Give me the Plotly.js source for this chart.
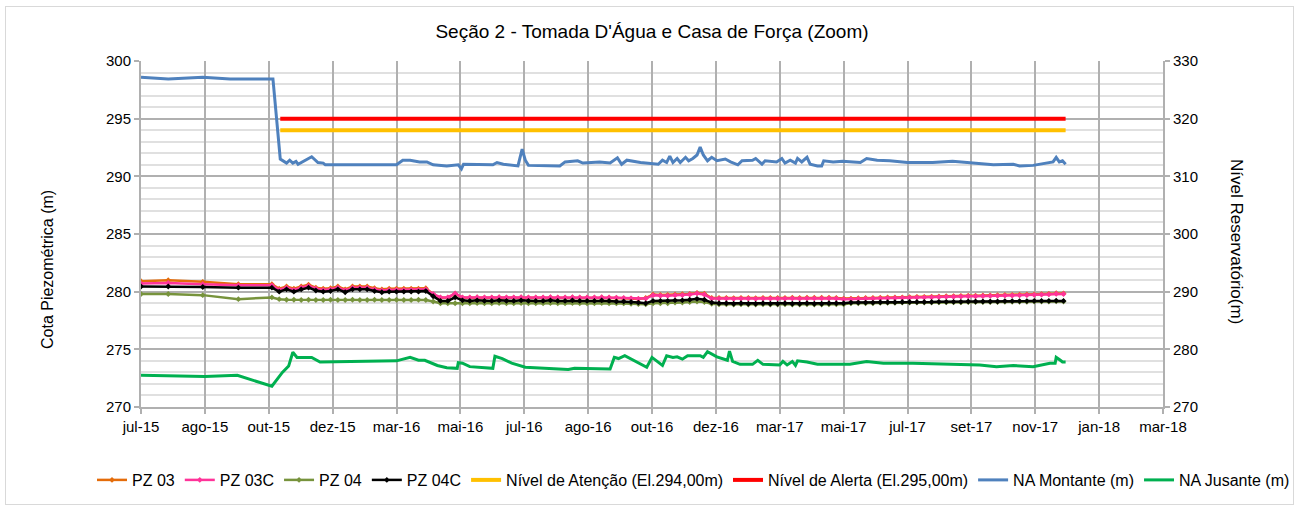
<!DOCTYPE html>
<html>
<head>
<meta charset="utf-8">
<script src="https://cdn.plot.ly/plotly-3.0.1.min.js"></script>
<style>
  html, body { margin: 0; padding: 0; background: #fff; }
  #wrap { position: relative; width: 1299px; height: 510px; }
  #chart { width: 1299px; height: 510px; }
  #frame { position: absolute; left: 5px; top: 6px; width: 1287px; height: 497px; border: 1px solid #d9d9d9; pointer-events: none; }
</style>
</head>
<body>
<div id="wrap"><div id="chart"></div><div id="frame"></div></div>
<script>
// ---- tick labels (x axis) ----
const tickDates = ['2015-07-01','2015-08-31','2015-10-31','2015-12-31','2016-03-01','2016-05-01','2016-07-01','2016-08-31','2016-10-31','2016-12-31','2017-03-02','2017-05-02','2017-07-02','2017-09-01','2017-11-01','2018-01-01','2018-03-03'];
const tickLabels = ['jul-15','ago-15','out-15','dez-15','mar-16','mai-16','jul-16','ago-16','out-16','dez-16','mar-17','mai-17','jul-17','set-17','nov-17','jan-18','mar-18'];

// ---- piezometer readings (left axis, m) ----
const pzDates = ['2015-07-01','2015-07-27','2015-08-29','2015-10-02','2015-11-03',
'2015-11-10','2015-11-17','2015-11-24','2015-12-01','2015-12-08','2015-12-15','2015-12-22','2015-12-29',
'2016-01-05','2016-01-12','2016-01-19','2016-01-26','2016-02-02','2016-02-09','2016-02-16','2016-02-23','2016-03-01','2016-03-08','2016-03-15','2016-03-22','2016-03-29',
'2016-04-05','2016-04-12','2016-04-19','2016-04-26','2016-05-03','2016-05-10','2016-05-17','2016-05-24','2016-05-31','2016-06-07','2016-06-14','2016-06-21','2016-06-28','2016-07-05','2016-07-12','2016-07-19','2016-07-26','2016-08-02','2016-08-09','2016-08-16','2016-08-23','2016-08-30','2016-09-06','2016-09-13','2016-09-20','2016-09-27','2016-10-04','2016-10-11','2016-10-18','2016-10-25',
'2016-11-01','2016-11-08','2016-11-15','2016-11-22','2016-11-29','2016-12-06','2016-12-13','2016-12-20',
'2016-12-27','2017-01-03','2017-01-10','2017-01-17','2017-01-24','2017-01-31','2017-02-07','2017-02-14','2017-02-21','2017-02-28','2017-03-07','2017-03-14','2017-03-21','2017-03-28','2017-04-04','2017-04-11','2017-04-18','2017-04-25','2017-05-02',
'2017-05-09','2017-05-16','2017-05-23','2017-05-30','2017-06-06','2017-06-13','2017-06-20','2017-06-27','2017-07-04','2017-07-11','2017-07-18','2017-07-25','2017-08-01','2017-08-08','2017-08-15','2017-08-22','2017-08-29','2017-09-05','2017-09-12','2017-09-19','2017-09-26','2017-10-03','2017-10-10','2017-10-17','2017-10-24','2017-10-31','2017-11-07','2017-11-14','2017-11-21','2017-11-28'];

const pz03 = [280.9,281.0,280.85,280.65,280.65,
280.25,280.45,280.25,280.45,280.6,280.35,280.25,280.3,280.45,280.2,280.45,280.45,280.45,280.3,280.2,280.25,280.25,280.25,280.25,280.25,280.3,
279.77,279.47,279.47,279.82,279.47,279.47,279.49,279.47,279.47,279.49,279.47,279.47,279.49,279.47,279.47,279.47,279.49,279.47,279.47,279.49,279.47,279.47,279.47,279.49,279.47,279.45,279.42,279.4,279.36,279.45,
279.75,279.72,279.72,279.75,279.78,279.8,279.88,279.82,
279.45,279.45,279.45,279.43,279.45,279.45,279.43,279.45,279.45,279.45,279.45,279.47,279.45,279.47,279.47,279.47,279.47,279.45,279.4,
279.4,279.43,279.45,279.45,279.47,279.49,279.5,279.51,279.53,279.55,279.55,279.57,279.59,279.6,279.61,279.63,279.65,279.65,279.67,279.68,279.69,279.71,279.72,279.73,279.75,279.77,279.79,279.81,279.86,279.85];

const pz03c = [280.7,280.75,280.65,280.55,280.55,
280.15,280.35,280.15,280.35,280.5,280.25,280.15,280.2,280.35,280.1,280.35,280.35,280.35,280.2,280.1,280.15,280.15,280.15,280.15,280.15,280.2,
279.8,279.5,279.5,279.85,279.5,279.5,279.52,279.5,279.5,279.52,279.5,279.5,279.52,279.5,279.5,279.5,279.52,279.5,279.5,279.52,279.5,279.5,279.5,279.52,279.5,279.48,279.45,279.42,279.38,279.4,
279.7,279.65,279.65,279.7,279.7,279.75,279.85,279.75,
279.4,279.4,279.4,279.38,279.4,279.4,279.38,279.4,279.4,279.4,279.4,279.42,279.4,279.42,279.42,279.42,279.42,279.4,279.35,
279.35,279.38,279.4,279.4,279.42,279.44,279.45,279.46,279.48,279.5,279.5,279.52,279.54,279.55,279.56,279.58,279.6,279.6,279.62,279.63,279.64,279.66,279.67,279.68,279.7,279.72,279.74,279.76,279.82,279.8];

const pz04 = [279.8,279.8,279.7,279.35,279.5,
279.35,279.3,279.3,279.28,279.3,279.28,279.28,279.3,279.28,279.28,279.3,279.28,279.28,279.3,279.28,279.28,279.3,279.28,279.28,279.3,279.28,
279.15,279.0,279.0,279.0,279.0,279.0,279.02,279.0,279.0,279.02,279.0,279.0,279.02,279.0,279.0,279.0,279.02,279.0,279.0,279.02,279.0,279.0,279.0,279.02,279.0,278.98,278.98,278.95,278.92,278.9,
279.0,279.0,279.0,279.05,279.05,279.1,279.15,279.1,
278.95,278.9,278.9,278.88,278.9,278.88,278.88,278.9,278.88,278.88,278.9,278.88,278.88,278.9,278.88,278.88,278.9,278.9,278.9,
279.0,279.0,279.0,279.0,279.03,279.03,279.03,279.05,279.05,279.05,279.05,279.05,279.07,279.07,279.07,279.07,279.1,279.1,279.1,279.1,279.1,279.13,279.13,279.13,279.13,279.15,279.15,279.15,279.17,279.15];

const pz04c = [280.45,280.45,280.4,280.35,280.35,
280.0,280.2,280.0,280.2,280.35,280.1,280.0,280.05,280.2,279.95,280.2,280.2,280.2,280.05,279.95,280.0,280.0,280.0,280.0,280.0,280.05,
279.6,279.2,279.2,279.5,279.25,279.2,279.25,279.2,279.2,279.25,279.2,279.2,279.25,279.2,279.2,279.2,279.25,279.2,279.2,279.25,279.2,279.2,279.2,279.25,279.2,279.15,279.15,279.1,279.05,279.0,
279.2,279.2,279.2,279.25,279.25,279.3,279.38,279.3,
279.05,279.0,279.0,278.95,279.0,278.95,278.95,279.0,278.95,278.95,279.0,278.95,278.95,279.0,278.95,278.95,279.0,279.0,279.0,
279.05,279.05,279.05,279.05,279.08,279.08,279.08,279.1,279.1,279.1,279.1,279.1,279.12,279.12,279.12,279.12,279.15,279.15,279.15,279.15,279.15,279.18,279.18,279.18,279.18,279.2,279.2,279.2,279.22,279.2];

// ---- limit levels (left axis, m) ----
const levelDates = ['2015-11-11','2017-11-30'];
const atencao = [294, 294];
const alerta = [295, 295];

// ---- reservoir levels (right axis, m) ----
const montDates = ['2015-07-01','2015-07-27','2015-08-29','2015-09-24','2015-11-04','2015-11-11','2015-11-17','2015-11-20','2015-11-23','2015-11-26','2015-11-28','2015-12-11','2015-12-17','2015-12-22','2015-12-24',
'2016-03-01','2016-03-07','2016-03-14','2016-03-23','2016-03-30','2016-04-05','2016-04-18','2016-04-29','2016-05-02','2016-05-04','2016-06-01','2016-06-05','2016-06-11','2016-06-25','2016-06-29','2016-07-02','2016-07-05',
'2016-08-04','2016-08-09','2016-08-21','2016-08-26','2016-09-11','2016-09-21','2016-09-28','2016-10-02','2016-10-07','2016-10-20','2016-11-06','2016-11-10','2016-11-14','2016-11-17','2016-11-20','2016-11-24','2016-11-27',
'2016-12-02','2016-12-05','2016-12-09','2016-12-13','2016-12-16','2016-12-19','2016-12-23','2016-12-27','2017-01-01','2017-01-09','2017-01-14','2017-01-21','2017-01-25','2017-02-04','2017-02-07','2017-02-13','2017-02-16','2017-02-27',
'2017-03-04','2017-03-07','2017-03-12','2017-03-17','2017-03-19','2017-03-23','2017-03-28','2017-03-31','2017-04-07','2017-04-11','2017-04-13','2017-04-22','2017-05-01','2017-05-18','2017-05-24','2017-06-03','2017-06-15',
'2017-07-02','2017-07-26','2017-08-14','2017-09-03','2017-09-22','2017-10-11','2017-10-17','2017-10-30','2017-11-12','2017-11-18','2017-11-21','2017-11-24','2017-11-27','2017-11-30'];
const naMontante = [327.2,326.9,327.2,326.9,326.9,313.0,312.3,312.8,312.3,312.6,312.1,313.4,312.4,312.3,312.0,
312.0,312.8,312.8,312.5,312.5,312.0,311.8,312.0,311.3,312.1,312.0,312.4,312.1,311.8,314.7,312.8,311.9,
311.8,312.5,312.7,312.3,312.5,312.3,313.2,312.1,312.8,312.4,312.1,312.8,312.4,313.5,312.4,313.1,312.4,
313.3,312.7,313.1,313.7,315.1,313.7,312.7,313.3,312.7,313.0,312.5,312.0,312.7,312.8,313.1,312.1,312.7,312.5,
313.1,312.3,312.8,312.3,313.1,312.5,313.3,312.1,311.8,311.8,312.7,312.5,312.6,312.4,313.1,312.8,312.7,
312.4,312.4,312.6,312.3,312.0,312.1,311.8,311.9,312.4,312.5,313.3,312.5,312.7,312.1];

const jusDates = ['2015-07-01','2015-08-31','2015-10-01','2015-11-03','2015-11-13','2015-11-19','2015-11-23','2015-11-27','2015-12-11','2015-12-19',
'2016-03-01','2016-03-14','2016-03-22','2016-03-28','2016-04-09','2016-04-18','2016-04-28','2016-04-29','2016-05-03','2016-05-10','2016-06-01','2016-06-03','2016-06-10','2016-06-19','2016-07-02','2016-07-28',
'2016-08-12','2016-08-18','2016-09-07','2016-09-21','2016-09-25','2016-09-29','2016-10-05','2016-10-15','2016-10-26','2016-10-31','2016-11-10','2016-11-14','2016-11-20','2016-11-24','2016-11-29','2016-12-04','2016-12-16','2016-12-19','2016-12-23',
'2017-01-01','2017-01-11','2017-01-13','2017-01-16','2017-01-23','2017-02-04','2017-02-09','2017-02-14','2017-03-02','2017-03-05','2017-03-09','2017-03-14','2017-03-17','2017-03-19','2017-03-28','2017-04-07','2017-04-19',
'2017-05-08','2017-05-24','2017-06-09','2017-07-07','2017-08-09','2017-09-09','2017-09-25','2017-10-11','2017-10-30','2017-11-15','2017-11-20','2017-11-21','2017-11-25','2017-11-27','2017-11-30'];
const naJusante = [275.5,275.3,275.5,273.6,276.0,277.1,279.5,278.6,278.6,277.8,
278.0,278.6,278.1,278.1,277.2,276.8,276.7,277.7,277.6,277.0,276.7,278.8,278.4,277.6,276.9,276.6,
276.5,276.7,276.7,276.6,278.6,278.4,278.9,277.9,276.9,278.6,277.2,278.9,278.6,278.7,278.3,278.9,278.9,278.6,279.6,
278.7,278.1,279.7,277.9,277.4,277.4,278.1,277.4,277.3,277.9,277.3,277.9,277.2,278.0,277.8,277.4,277.4,
277.4,277.9,277.6,277.6,277.4,277.3,277.0,277.2,277.0,277.6,277.6,278.6,278.1,277.8,277.8];

const FONT = 'Liberation Sans, Arial, sans-serif';
const GRID = '#b0b0b0';

function pzTrace(name, y, color) {
  return { type: 'scatter', mode: 'lines+markers', name: name, x: pzDates, y: y, yaxis: 'y', legend: 'legend',
    line: { color: color, width: 2.5 }, marker: { color: color, symbol: 'diamond', size: 4.5 } };
}

const traces = [
  pzTrace('PZ 03', pz03, '#E46C0A'),
  pzTrace('PZ 03C', pz03c, '#FF3399'),
  pzTrace('PZ 04', pz04, '#77933C'),
  pzTrace('PZ 04C', pz04c, '#000000'),
  { type: 'scatter', mode: 'lines', name: 'Nível de Atenção (El.294,00m)', x: levelDates, y: atencao, yaxis: 'y', legend: 'legend', line: { color: '#FFC000', width: 4 } },
  { type: 'scatter', mode: 'lines', name: 'Nível de Alerta (El.295,00m)', x: levelDates, y: alerta, yaxis: 'y', legend: 'legend2', line: { color: '#FF0000', width: 4 } },
  { type: 'scatter', mode: 'lines', name: 'NA Montante (m)', x: montDates, y: naMontante, yaxis: 'y2', legend: 'legend2', line: { color: '#4F81BD', width: 3 } },
  { type: 'scatter', mode: 'lines', name: 'NA Jusante (m)', x: jusDates, y: naJusante, yaxis: 'y2', legend: 'legend2', line: { color: '#00B050', width: 3 } }
];

const legendBase = {
  orientation: 'h', xref: 'container', yref: 'container', y: 1 - 480/510, yanchor: 'middle',
  font: { family: FONT, size: 16, color: '#000' }, itemwidth: 30, tracegroupgap: 0, bgcolor: 'rgba(0,0,0,0)'
};

const layout = {
  width: 1299, height: 510,
  margin: { l: 141, r: 136, t: 61, b: 103 },
  paper_bgcolor: '#ffffff', plot_bgcolor: '#ffffff',
  font: { family: FONT, size: 15, color: '#000' },
  showlegend: true,
  title: { text: "Seção 2 - Tomada D'Água e Casa de Força (Zoom)", font: { family: FONT, size: 19, color: '#000' },
    x: 0.5, xref: 'paper', xanchor: 'center', y: 1 - 31/510, yref: 'container', yanchor: 'middle' },
  xaxis: {
    type: 'date', range: ['2015-07-01', '2018-03-03'],
    tickmode: 'array', tickvals: tickDates, ticktext: tickLabels,
    showgrid: true, gridcolor: GRID, gridwidth: 2,
    showline: true, linecolor: GRID, linewidth: 2,
    ticks: 'outside', ticklen: 5, tickcolor: GRID, tickwidth: 2,
    tickfont: { family: FONT, size: 15, color: '#000' }, zeroline: false
  },
  yaxis: {
    range: [270, 300], tickmode: 'linear', tick0: 270, dtick: 5,
    showgrid: true, gridcolor: GRID, gridwidth: 2,
    minor: { dtick: 1, showgrid: true, gridcolor: '#e0e0e0', gridwidth: 2, ticks: '' },
    showline: true, linecolor: GRID, linewidth: 2,
    ticks: 'outside', ticklen: 5, tickcolor: GRID, tickwidth: 2,
    tickfont: { family: FONT, size: 15, color: '#000' }, zeroline: false
  },
  yaxis2: {
    overlaying: 'y', side: 'right', range: [270, 330], tickmode: 'linear', tick0: 270, dtick: 10,
    showgrid: false, showline: true, linecolor: GRID, linewidth: 2,
    ticks: 'outside', ticklen: 5, tickcolor: GRID, tickwidth: 2,
    tickfont: { family: FONT, size: 15, color: '#000' }, zeroline: false
  },
  legend: Object.assign({}, legendBase, { x: 92/1299, xanchor: 'left' }),
  legend2: Object.assign({}, legendBase, { x: 728/1299, xanchor: 'left' }),
  annotations: [
    { text: 'Cota Piezométrica (m)', xref: 'paper', yref: 'paper', x: (47 - 141) / 1022, y: (407 - 270) / 346, xanchor: 'center', yanchor: 'middle', textangle: -90, showarrow: false, font: { family: FONT, size: 16, color: '#000' } },
    { text: 'Nível Reservatório(m)', xref: 'paper', yref: 'paper', x: (1237 - 141) / 1022, y: (407 - 241) / 346, xanchor: 'center', yanchor: 'middle', textangle: 90, showarrow: false, font: { family: FONT, size: 17, color: '#000' } }
  ]
};

Plotly.newPlot('chart', traces, layout, { displayModeBar: false, staticPlot: true });
</script>
</body>
</html>
